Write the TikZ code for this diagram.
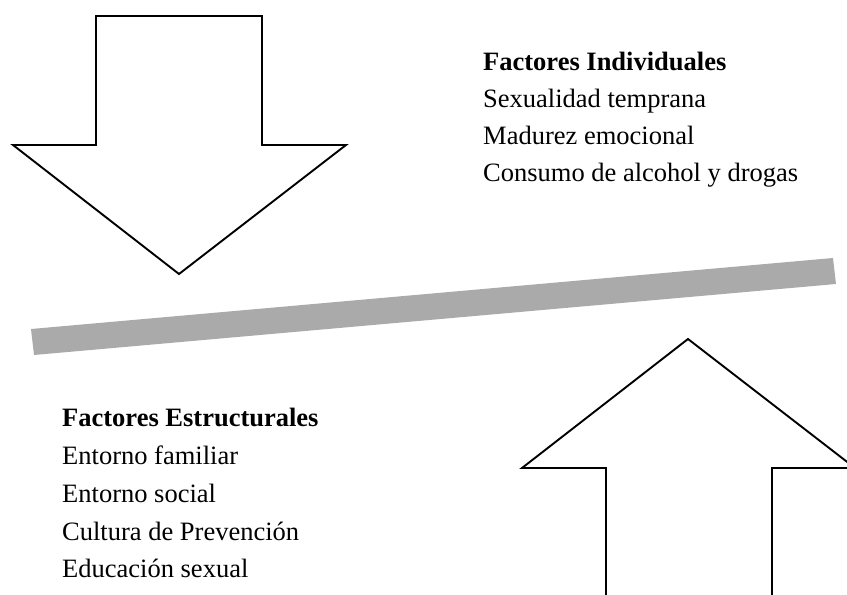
\documentclass[tikz,border=0pt]{standalone}
\usepackage{fontspec}
\setmainfont{Liberation Serif}
\usepackage{tikz}
\usetikzlibrary{positioning}
\definecolor{bargray}{RGB}{170,170,170}
\tikzset{
  bigarrow/.style={draw=black, line width=1.9pt, fill=white, line join=miter},
  factor/.style={anchor=base west, inner sep=0pt, font=\fontsize{26.5}{37}\selectfont},
  factorhead/.style={factor, font=\fontsize{26.5}{37}\selectfont\bfseries}
}
\begin{document}
\begin{tikzpicture}[x=1pt, y=-1pt]
	\useasboundingbox (0,0) rectangle (847,595);
	\clip (0,0) rectangle (847,595);

	% arrow pushing down
	\draw[bigarrow] (96,16) -- (262,16) -- (262,145) -- (346,145) -- (179,274)
		-- (13,145) -- (96,145) -- cycle;

	% arrow pushing up
	\draw[bigarrow] (606,610) -- (606,468) -- (522,468) -- (688,339)
		-- (855,468) -- (772,468) -- (772,610);

	% the bar in between
	\fill[bargray] (31,329) -- (833,258) -- (836,284) -- (34,355) -- cycle;

	% individual factors
	\node[factorhead] (indhead) at (483,70.7) {Factores Individuales};
	\foreach \txt [count=\i] in {Sexualidad temprana, Madurez emocional, Consumo de alcohol y drogas}
		\node[factor] (ind\i) at (483,70.7+37*\i) {\txt};

	% structural factors
	\node[factorhead] (esthead) at (62,426.7) {Factores Estructurales};
	\foreach \txt [count=\i] in {Entorno familiar, Entorno social, Cultura de Prevención, Educación sexual}
		\node[factor] (est\i) at (62,426.7+37.8*\i) {\txt};
\end{tikzpicture}
\end{document}
